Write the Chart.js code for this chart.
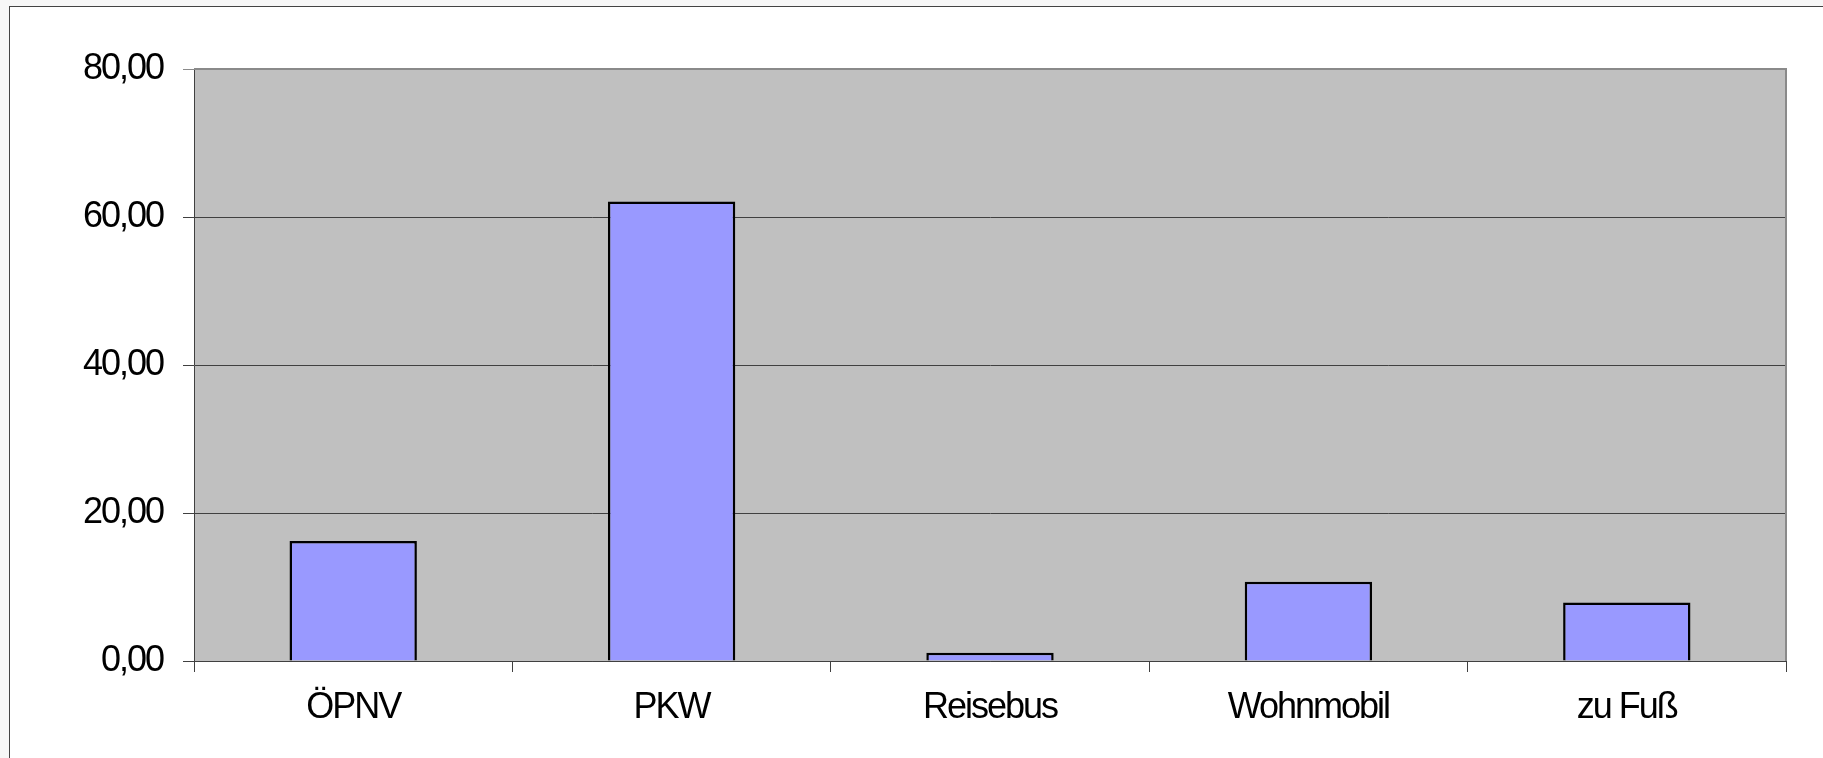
<!DOCTYPE html>
<html>
<head>
    <meta charset="utf-8">
    <title>Verkehrsmittel</title>
    <script src="https://cdn.jsdelivr.net/npm/chart.js"></script>
    <style>
        html, body { margin: 0; padding: 0; background: #f7f7f7; overflow: hidden; }
        #frame {
            position: absolute; left: 9px; top: 6px;
            width: 1900px; height: 900px;
            background: #ffffff; border: 1px solid #444;
        }
        #bar-chart { position: absolute; left: 0; top: 0; }
    </style>
</head>
<body>
    <div id="frame"></div>
    <canvas id="bar-chart" width="1823" height="758"></canvas>

    <script>
        // data
        var categories = ["ÖPNV", "PKW", "Reisebus", "Wohnmobil", "zu Fuß"];
        var values = [16.2, 62.1, 1.1, 10.7, 7.9];

        var fontFamily = "'Liberation Sans Narrow', 'Arial Narrow', 'Liberation Sans', Arial, sans-serif";

        // the original uses a narrow font, squeeze the letters a bit
        function narrowText(chart) {
            if ('letterSpacing' in chart.ctx) chart.ctx.letterSpacing = '-2px';
        }

        // grey plot background + grey top/right frame
        var plotBackground = {
            id: 'plotBackground',
            beforeUpdate: narrowText,
            beforeLayout: narrowText,
            beforeDraw: function (chart) {
                narrowText(chart);
                var a = chart.chartArea, ctx = chart.ctx;
                ctx.save();
                ctx.fillStyle = '#c0c0c0';
                ctx.fillRect(a.left, a.top, a.right - a.left, a.bottom - a.top);
                ctx.restore();
            },
            afterDatasetsDraw: function (chart) {
                var a = chart.chartArea, ctx = chart.ctx;
                ctx.save();
                ctx.strokeStyle = '#8a8a8a';
                ctx.lineWidth = 2;
                ctx.beginPath();
                ctx.moveTo(a.left, a.top);
                ctx.lineTo(a.right, a.top);
                ctx.lineTo(a.right, a.bottom);
                ctx.stroke();
                ctx.restore();
            }
        };

        var ctx = document.getElementById('bar-chart').getContext('2d');
        var myBarChart = new Chart(ctx, {
            type: 'bar',
            data: {
                labels: categories,
                datasets: [{
                    data: values,
                    backgroundColor: '#9999ff',
                    borderColor: '#000000',
                    borderWidth: 2.5,
                    barPercentage: 0.4,
                    categoryPercentage: 1.0
                }]
            },
            options: {
                responsive: false,
                animation: false,
                devicePixelRatio: 1,
                layout: { padding: { top: 69, right: 37, bottom: 0, left: 0 } },
                plugins: {
                    legend: { display: false },
                    tooltip: { enabled: false }
                },
                scales: {
                    x: {
                        afterFit: function (scale) { scale.height = 97; },
                        grid: {
                            offset: true,
                            drawOnChartArea: false,
                            drawTicks: true,
                            tickLength: 11,
                            color: '#404040'
                        },
                        border: { color: '#404040', width: 1 },
                        ticks: {
                            color: '#000',
                            padding: 14,
                            font: { family: fontFamily, size: 36 }
                        }
                    },
                    y: {
                        min: 0,
                        max: 80,
                        afterFit: function (scale) { scale.width = 194; },
                        grid: {
                            drawTicks: true,
                            tickLength: 11,
                            color: function (c) { return c.tick && c.tick.value === 80 ? '#8a8a8a' : '#404040'; }
                        },
                        border: { color: '#404040', width: 1 },
                        ticks: {
                            stepSize: 20,
                            color: '#000',
                            padding: 20,
                            font: { family: fontFamily, size: 36 },
                            callback: function (v) { return v.toFixed(2).replace('.', ','); }
                        }
                    }
                }
            },
            plugins: [plotBackground]
        });
    </script>
</body>
</html>
